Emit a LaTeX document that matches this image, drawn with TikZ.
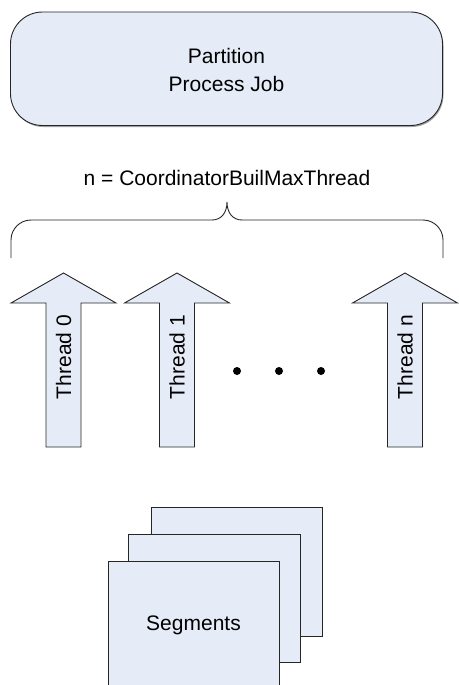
\documentclass[tikz,border=0pt]{standalone}
\usepackage{fontspec}
\setmainfont{Liberation Sans}
\definecolor{boxfill}{RGB}{230,236,247}
\definecolor{shade}{RGB}{160,160,160}
\begin{document}
\begin{tikzpicture}[x=1pt,y=-1pt,
  outline/.style={draw=black!85,line width=0.9pt,fill=boxfill},
  shadowed/.style={fill=shade},
  lbl/.style={font=\fontsize{21}{28}\selectfont,align=center,inner sep=0pt},
  dotmark/.style={fill=black}]
\useasboundingbox (0,0) rectangle (458,685);
% top job box
\fill[shadowed,rounded corners=32pt] (11.5,13.5) rectangle (443.5,127);
\draw[outline,rounded corners=32pt] (10.5,12) rectangle (442.5,125.5);
\node[lbl] (job) at (226.5,70) {Partition\\Process Job};
% label and brace
\node[lbl] (n) at (227,178) {n = CoordinatorBuilMaxThread};
\draw[black!85,line width=0.9pt,rounded corners=20pt] (11,258) -- (11,220) -- (212,220);
\draw[black!85,line width=0.9pt] (212,220)
  .. controls (221,220) and (227,213) .. (227,202)
  .. controls (227,213) and (233,220) .. (242,220);
\draw[black!85,line width=0.9pt,rounded corners=20pt] (242,220) -- (443,220) -- (443,258);
% arrows
\foreach \cx/\t/\nm in {63.5/Thread 0/t0, 177/Thread 1/t1, 405/Thread n/tn}{
  \draw[outline] (\cx,273) -- (\cx+52.5,303) -- (\cx+17.5,303) -- (\cx+17.5,447)
     -- (\cx-17.5,447) -- (\cx-17.5,303) -- (\cx-52.5,303) -- cycle;
  \node[lbl,rotate=90] (\nm) at (\cx,357) {\t};
}
% dots
\foreach \dx/\nm in {237/d1,279/d2,321/d3}{
  \fill[dotmark] (\dx,371) circle (4);
}
% segments
\fill[shadowed] (152,508) rectangle (323,637);
\draw[outline] (151,507) rectangle (322,636);
\fill[shadowed] (129,535) rectangle (301,663);
\draw[outline] (128,534) rectangle (300,662);
\fill[boxfill] (108,561) rectangle (279,686);
\draw[black!85,line width=0.9pt] (108,686) -- (108,561) -- (279,561) -- (279,686);
\node[lbl] (seg) at (193.5,625) {Segments};
\end{tikzpicture}
\end{document}
